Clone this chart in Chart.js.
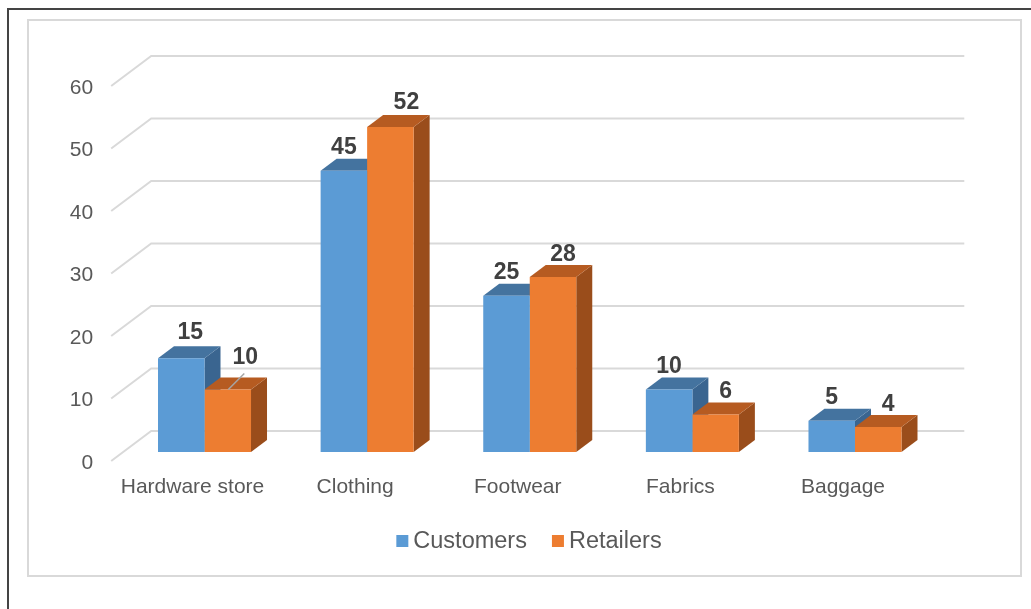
<!DOCTYPE html>
<html>
<head>
<meta charset="utf-8">
<title>Customers and retailers by category</title>
<script src="https://cdn.jsdelivr.net/npm/chart.js@4.4.1/dist/chart.umd.min.js"></script>
<style>
  html, body { margin: 0; padding: 0; background: #fff; width: 1031px; height: 609px; overflow: hidden; }
  #frame { position: absolute; left: 7px; top: 8px; right: -4px; bottom: -4px; border-left: 2px solid #444; border-top: 2px solid #444; }
  #panel { position: absolute; left: 27px; top: 19px; width: 991px; height: 554px; border: 2px solid #d9d9d9; }
  #wrap { position: absolute; left: 0; top: 0; width: 1031px; height: 609px; }
</style>
</head>
<body>
<div id="frame"></div>
<div id="panel"></div>
<div id="wrap"><canvas id="chart" width="1031" height="609"></canvas></div>
<script>
// Categories, series and axis ticks
const categories = ['Hardware store', 'Clothing', 'Footwear', 'Fabrics', 'Baggage'];
const customers = [15, 45, 25, 10, 5];
const retailers = [10, 52, 28, 6, 4];
const yTicks = [0, 10, 20, 30, 40, 50, 60];

const FONT = '"Liberation Sans", Arial, sans-serif';

function poly(ctx, pts) {
  ctx.beginPath();
  ctx.moveTo(pts[0][0], pts[0][1]);
  for (let k = 1; k < pts.length; k++) ctx.lineTo(pts[k][0], pts[k][1]);
  ctx.closePath();
  ctx.fill();
}

// Draws the back wall, the floor diagonals, the side/top faces of each
// column, shifts the front faces into depth, then writes values and legend.
const columns3d = {
  id: 'columns3d',
  beforeDatasetsDraw(chart, args, o) {
    const { ctx, chartArea: a, scales: { y } } = chart;
    ctx.save();
    ctx.strokeStyle = o.gridColor;
    ctx.lineWidth = 2;
    yTicks.forEach(v => {
      const py = y.getPixelForValue(v);
      ctx.beginPath();
      ctx.moveTo(a.left, py);
      ctx.lineTo(a.left + o.wall.dx, py + o.wall.dy);
      ctx.lineTo(a.right + o.wall.dx, py + o.wall.dy);
      ctx.stroke();
    });
    const metas = chart.data.datasets.map((d, i) => chart.getDatasetMeta(i));
    categories.forEach((c, i) => {
      metas.forEach((m, di) => {
        const el = m.data[i];
        const sh = o.shades[di];
        const l = el.x - el.width / 2 + o.shift.dx;
        const r = el.x + el.width / 2 + o.shift.dx;
        const t = el.y + o.shift.dy;
        const b = el.base + o.shift.dy;
        const dx = o.depth.dx, dy = o.depth.dy;
        ctx.fillStyle = sh.side;
        poly(ctx, [[r, t], [r + dx, t + dy], [r + dx, b + dy], [r, b]]);
        ctx.fillStyle = sh.top;
        poly(ctx, [[l, t], [l + dx, t + dy], [r + dx, t + dy], [r, t]]);
      });
    });
    ctx.restore();
    ctx.save();
    ctx.translate(o.shift.dx, o.shift.dy);
  },
  afterDatasetsDraw(chart, args, o) {
    const ctx = chart.ctx;
    ctx.restore();
    ctx.save();
    ctx.font = 'bold 23px ' + FONT;
    ctx.fillStyle = '#404040';
    ctx.textAlign = 'center';
    ctx.textBaseline = 'alphabetic';
    chart.data.datasets.forEach((ds, di) => {
      chart.getDatasetMeta(di).data.forEach((el, i) => {
        const fx = el.x + o.shift.dx;
        const fy = el.y + o.shift.dy;
        const n = o.nudges.find(q => q.ds === di && q.i === i);
        let lx = fx + o.labelShift[di];
        let ly = fy + o.labelGap;
        if (n) {
          lx = fx + n.dx;
          ly = fy + n.dy;
          if (n.leader) {
            ctx.save();
            ctx.strokeStyle = '#a6a6a6';
            ctx.lineWidth = 1.5;
            ctx.beginPath();
            ctx.moveTo(fx + 0.5, fy);
            ctx.lineTo(fx + 16.5, fy - 16);
            ctx.stroke();
            ctx.restore();
          }
        }
        ctx.fillText(String(ds.data[i]), lx, ly);
      });
    });
    ctx.restore();
  },
  afterDraw(chart, args, o) {
    const ctx = chart.ctx;
    const L = o.legend;
    ctx.save();
    ctx.font = L.size + 'px ' + FONT;
    const items = chart.data.datasets.map(d => ({ text: d.label, color: d.backgroundColor, w: ctx.measureText(d.label).width }));
    const total = items.reduce((s, it) => s + L.box + L.gap + it.w, 0) + L.itemGap * (items.length - 1);
    let x = L.cx - total / 2;
    ctx.textBaseline = 'middle';
    ctx.textAlign = 'left';
    items.forEach(it => {
      ctx.fillStyle = it.color;
      ctx.fillRect(x, L.y - L.box / 2, L.box, L.box);
      ctx.fillStyle = '#595959';
      ctx.fillText(it.text, x + L.box + L.gap, L.y + 1);
      x += L.box + L.gap + it.w + L.itemGap;
    });
    ctx.restore();
  }
};

new Chart(document.getElementById('chart'), {
  type: 'bar',
  data: {
    labels: categories,
    datasets: [
      { label: 'Customers', data: customers, backgroundColor: '#5B9BD5' },
      { label: 'Retailers', data: retailers, backgroundColor: '#ED7D31' }
    ]
  },
  options: {
    responsive: false,
    animation: false,
    devicePixelRatio: 1,
    events: [],
    layout: { padding: { left: 0, top: 86, right: 106.7, bottom: 88 } },
    datasets: { bar: { categoryPercentage: 0.572, barPercentage: 1, borderWidth: 0 } },
    scales: {
      x: {
        grid: { display: false, drawTicks: false },
        border: { display: false },
        ticks: { color: '#595959', font: { family: FONT, size: 21 }, padding: 14, maxRotation: 0, autoSkip: false },
        afterFit(s) { s.height = 60; }
      },
      y: {
        min: 0, max: 60,
        afterBuildTicks(s) { s.ticks = yTicks.map(v => ({ value: v })); },
        grid: { display: false, drawTicks: false },
        border: { display: false },
        ticks: { color: '#595959', font: { family: FONT, size: 21 }, padding: 18, labelOffset: 2 },
        afterFit(s) { s.width = 111.2; }
      }
    },
    plugins: {
      legend: { display: false },
      tooltip: { enabled: false },
      columns3d: {
        gridColor: '#d9d9d9',
        wall: { dx: 40, dy: -30 },
        shift: { dx: 12, dy: -9 },
        depth: { dx: 16, dy: -12 },
        shades: [
          { top: '#44739F', side: '#3A6590' },
          { top: '#B65B21', side: '#9A4D1B' }
        ],
        labelShift: [0, 10],
        labelGap: -16.5,
        nudges: [
          { ds: 0, i: 0, dx: 9, dy: -19 },
          { ds: 1, i: 0, dx: 17.5, dy: -26, leader: true },
          { ds: 1, i: 1, dx: 16, dy: -18.5 }
        ],
        legend: { cx: 529, y: 541, size: 23.5, box: 12, gap: 5, itemGap: 25 }
      }
    }
  },
  plugins: [columns3d]
});
</script>
</body>
</html>
